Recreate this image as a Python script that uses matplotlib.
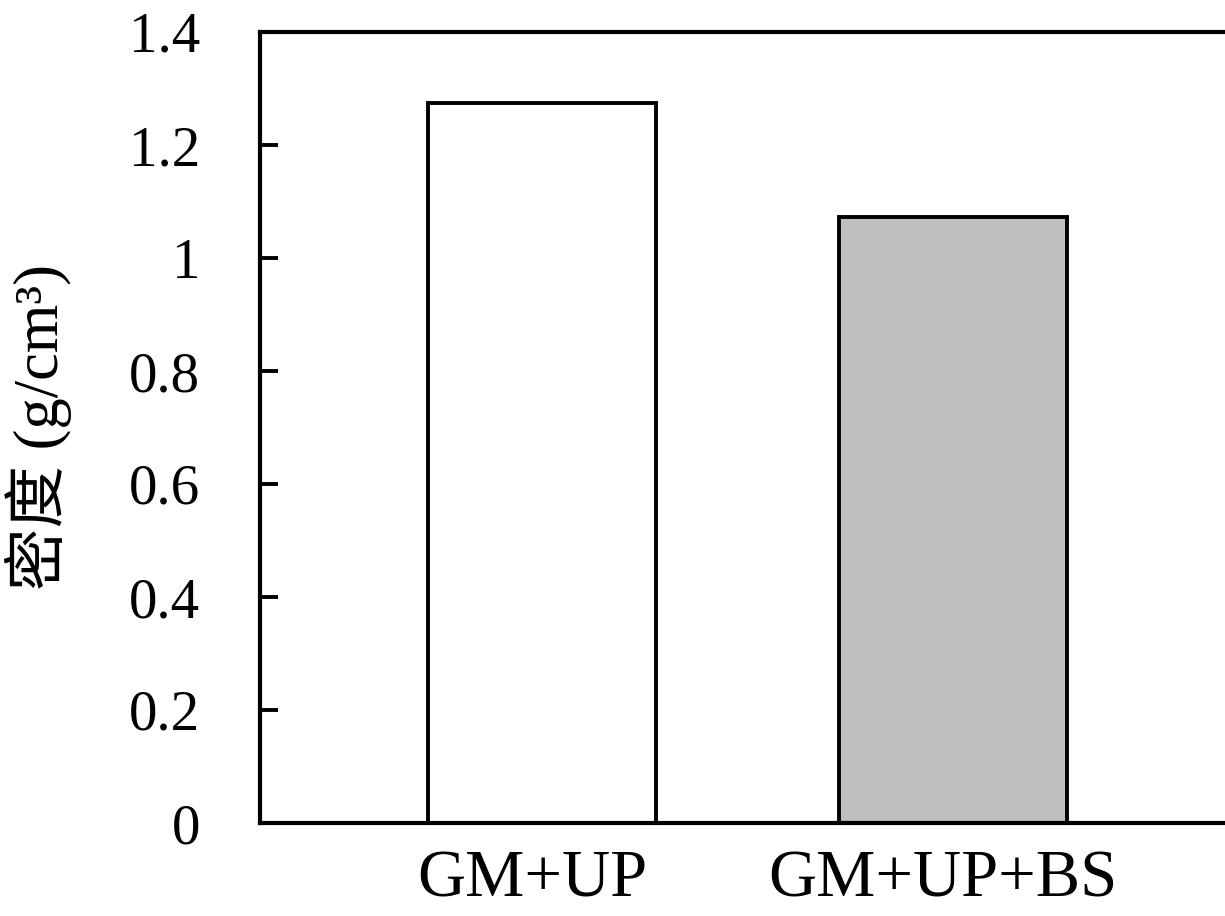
import matplotlib
matplotlib.use("Agg")
import matplotlib.pyplot as plt
from matplotlib.transforms import ScaledTranslation

categories = ["GM+UP", "GM+UP+BS"]
density = [1.275, 1.072]
bar_colors = ["white", "#bfbfbf"]
y_ticks = [0, 0.2, 0.4, 0.6, 0.8, 1.0, 1.2, 1.4]
y_tick_labels = ["0", "0.2", "0.4", "0.6", "0.8", "1", "1.2", "1.4"]

plt.rcParams["font.family"] = ["Liberation Serif", "Noto Sans CJK SC", "DejaVu Sans"]

fig = plt.figure(figsize=(12.25, 9.16), dpi=100)
# right spine sits just past the figure edge, as in the reference
ax = fig.add_axes([260 / 1225, 1 - 823 / 916, 975 / 1225, (823 - 32) / 916])

x = list(range(len(categories)))
ax.bar(x, density, width=0.556, color=bar_colors, edgecolor="black", linewidth=2.8, zorder=2)

ax.set_xlim(-0.688, 1.688)
ax.set_ylim(0, 1.4)
ax.set_yticks(y_ticks)
ax.set_yticklabels(y_tick_labels)
ax.set_xticks(x)
ax.set_xticklabels(categories)

ax.tick_params(axis="y", direction="in", length=13, width=2.8, pad=43, labelsize=41)
ax.tick_params(axis="x", length=0, pad=19, labelsize=48)

# labels in the reference sit a little left of the bar centres
shift = ScaledTranslation(-10 / 100, 0, fig.dpi_scale_trans)
for lab in ax.get_xticklabels():
    lab.set_transform(lab.get_transform() + shift)

for side in ["left", "top", "bottom", "right"]:
    ax.spines[side].set_linewidth(3)

ax.set_ylabel("密度 (g/cm³)", fontsize=45)
ax.yaxis.set_label_coords((72 - 260) / 975, 0.5)

fig.savefig("out.png", dpi=100)
